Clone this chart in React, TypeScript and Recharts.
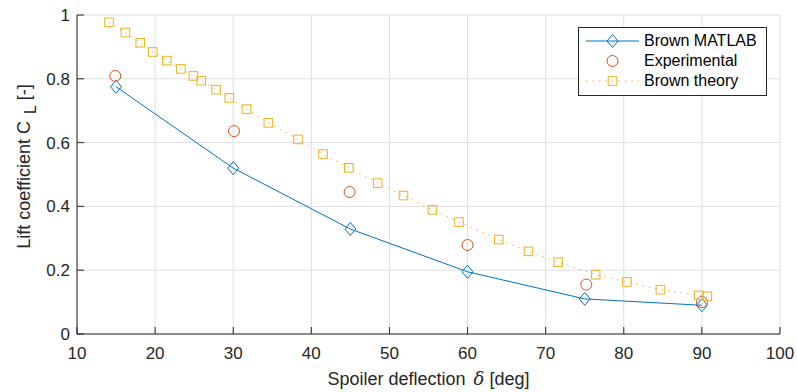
import React from "react";
import {
  LineChart,
  Line,
  XAxis,
  YAxis,
  CartesianGrid,
  Legend,
} from "recharts";

// Brown MATLAB model
const matlabDeflection = [15, 30, 45, 60, 75, 90];
const matlabCL = [0.775, 0.52, 0.329, 0.195, 0.11, 0.09];

// Experimental points
const expDeflection = [14.9, 30.1, 44.9, 60, 75.2, 90];
const expCL = [0.809, 0.636, 0.445, 0.279, 0.155, 0.1];

const theoryDeflection = [
  14.1, 16.2, 18.1, 19.7, 21.5, 23.3, 24.9, 25.9, 27.8, 29.5, 31.7, 34.5, 38.3,
  41.5, 44.8, 48.5, 51.8, 55.5, 58.9, 64.0, 67.8, 71.6, 76.4, 80.4, 84.7, 89.6,
  90.7,
];
const theoryCL = [
  0.977, 0.945, 0.913, 0.884, 0.857, 0.831, 0.809, 0.794, 0.766, 0.74, 0.705,
  0.662, 0.61, 0.564, 0.521, 0.473, 0.434, 0.389, 0.351, 0.296, 0.259, 0.225,
  0.186, 0.163, 0.139, 0.121, 0.118,
];

const xTicks = [10, 20, 30, 40, 50, 60, 70, 80, 90, 100];
const yTicks = [0, 0.2, 0.4, 0.6, 0.8, 1];

const FONT = "'Liberation Sans', Arial, Helvetica, sans-serif";
const AXIS = "#262626";
const BLUE = "#0072BD";
const ORANGE = "#D95319";
const YELLOW = "#EDB120";

const zip = (xs: number[], ys: number[]) => xs.map((x, i) => ({ x, y: ys[i] }));

const matlabData = zip(matlabDeflection, matlabCL);
const expData = zip(expDeflection, expCL);
const theoryData = zip(theoryDeflection, theoryCL);

type MarkerKind = "diamond" | "circle" | "square";

const marker = (kind: MarkerKind, cx: number, cy: number, color: string, key?: any) => {
  if (kind === "diamond")
    return (
      <path
        key={key}
        d={`M${cx},${cy - 6.5}L${cx + 5.5},${cy}L${cx},${cy + 6.5}L${cx - 5.5},${cy}Z`}
        fill="none"
        stroke={color}
        strokeWidth={1}
      />
    );
  if (kind === "circle")
    return <circle key={key} cx={cx} cy={cy} r={5.5} fill="none" stroke={color} strokeWidth={1} />;
  return (
    <rect key={key} x={cx - 4.3} y={cy - 4.3} width={8.6} height={8.6} fill="none" stroke={color} strokeWidth={1} />
  );
};

const series = [
  { name: "Brown MATLAB", color: BLUE, kind: "diamond" as MarkerKind, line: true, dash: undefined },
  { name: "Experimental", color: ORANGE, kind: "circle" as MarkerKind, line: false, dash: undefined },
  { name: "Brown theory", color: YELLOW, kind: "square" as MarkerKind, line: true, dash: "1.5 5" },
];

const dotFor = (kind: MarkerKind, color: string) => (props: any) =>
  marker(kind, props.cx, props.cy, color, props.index);

const renderLegend = () => (
  <div
    style={{
      boxSizing: "border-box",
      width: 189,
      border: `1px solid ${AXIS}`,
      background: "#fff",
      padding: "3px 6px 4px 7px",
      fontFamily: FONT,
      fontSize: 16,
      color: "#000",
    }}
  >
    {series.map((s) => (
      <div key={s.name} style={{ display: "flex", alignItems: "center", height: 20 }}>
        <svg width={53} height={20} style={{ display: "block" }}>
          {s.line && (
            <line x1={0} x2={53} y1={10} y2={10} stroke={s.color} strokeWidth={1} strokeDasharray={s.dash} />
          )}
          {marker(s.kind, 26.5, 10, s.color)}
        </svg>
        <span style={{ marginLeft: 5, whiteSpace: "nowrap" }}>{s.name}</span>
      </div>
    ))}
  </div>
);

const XLabel = (props: any) => {
  const vb = props.viewBox;
  return (
    <text
      x={vb.x + vb.width / 2}
      y={vb.y + 51}
      textAnchor="middle"
      fill={AXIS}
      fontFamily={FONT}
      fontSize={18}
    >
      Spoiler deflection
      <tspan dx={8} fontFamily="'DejaVu Serif', 'Liberation Serif', serif" fontStyle="italic">
        δ
      </tspan>{" "}
      [deg]
    </text>
  );
};

const YLabel = (props: any) => {
  const vb = props.viewBox;
  const x = vb.x + 30;
  const y = vb.y + vb.height / 2 - 8;
  return (
    <text
      x={x}
      y={y}
      transform={`rotate(-90, ${x}, ${y})`}
      textAnchor="middle"
      fill={AXIS}
      fontFamily={FONT}
      fontSize={18}
    >
      Lift coefficient C
      <tspan dx={7} dy={6} fontSize={16}>
        L
      </tspan>
      <tspan dy={-6}> [-]</tspan>
    </text>
  );
};

export default function App() {
  return (
    <div style={{ position: "absolute", left: 0, top: 0, background: "#fff" }}>
      <LineChart width={797} height={392} margin={{ top: 15, right: 17, bottom: 0, left: 0 }}>
        <CartesianGrid stroke="#dfdfdf" strokeWidth={1} />
        <XAxis
          dataKey="x"
          type="number"
          domain={[10, 100]}
          ticks={xTicks}
          allowDataOverflow
          height={58}
          stroke={AXIS}
          tickSize={-7}
          tickMargin={20}
          tickLine={{ stroke: AXIS }}
          tick={{ fill: AXIS, fontSize: 17, fontFamily: FONT }}
          label={{ content: XLabel }}
        />
        <YAxis
          type="number"
          domain={[0, 1]}
          ticks={yTicks}
          allowDataOverflow
          width={77}
          stroke={AXIS}
          tickSize={-7}
          tickMargin={14}
          tickLine={{ stroke: AXIS }}
          tick={{ fill: AXIS, fontSize: 17, fontFamily: FONT }}
          label={{ content: YLabel }}
        />
        <Line
          data={matlabData}
          dataKey="y"
          name="Brown MATLAB"
          type="linear"
          stroke={BLUE}
          strokeWidth={1}
          dot={dotFor("diamond", BLUE)}
          activeDot={false}
          isAnimationActive={false}
        />
        <Line
          data={expData}
          dataKey="y"
          name="Experimental"
          type="linear"
          stroke="none"
          dot={dotFor("circle", ORANGE)}
          activeDot={false}
          isAnimationActive={false}
        />
        <Line
          data={theoryData}
          dataKey="y"
          name="Brown theory"
          type="linear"
          stroke={YELLOW}
          strokeWidth={1}
          strokeDasharray="1.5 5"
          dot={dotFor("square", YELLOW)}
          activeDot={false}
          isAnimationActive={false}
        />
        <Legend
          layout="vertical"
          align="center"
          verticalAlign="middle"
          content={renderLegend}
          wrapperStyle={{ left: 578, top: 27, width: 189, height: 67 }}
        />
      </LineChart>
    </div>
  );
}
